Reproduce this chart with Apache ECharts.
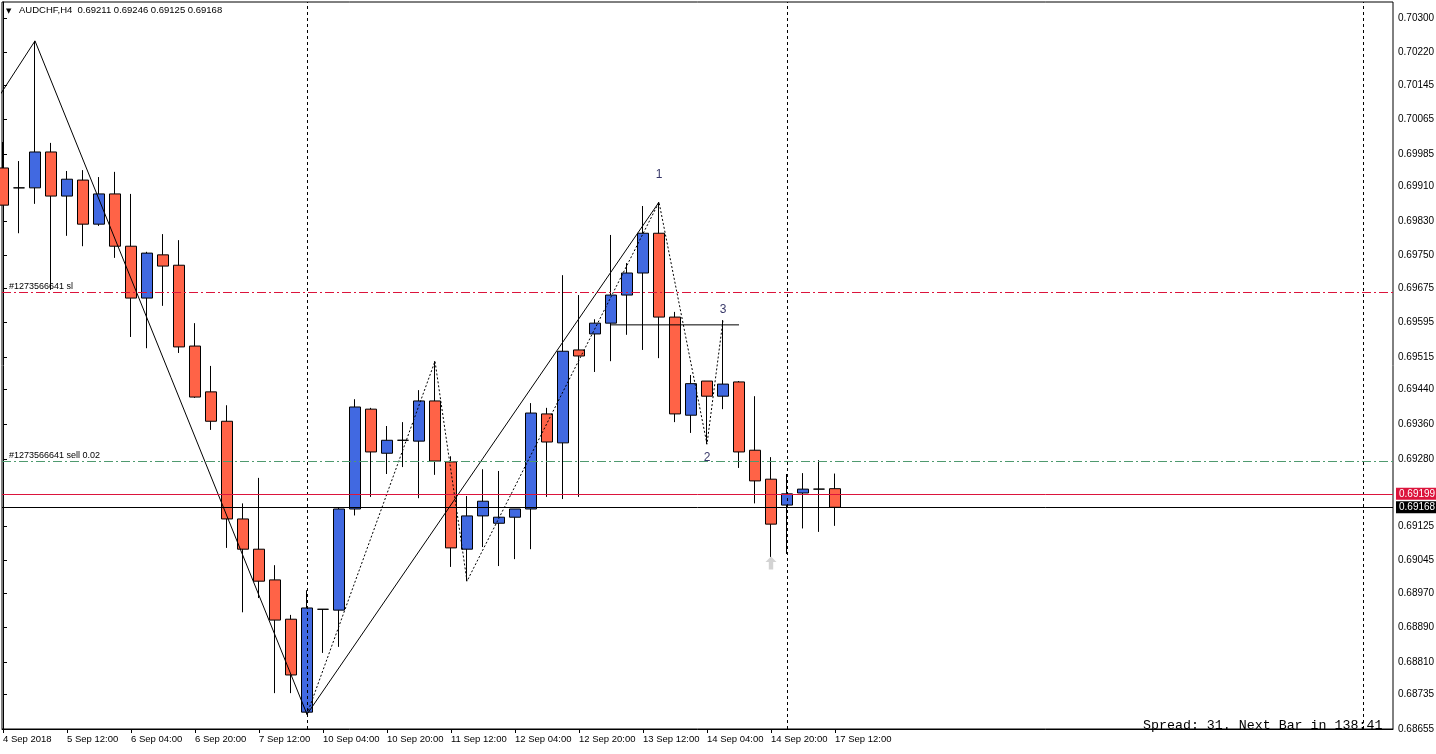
<!DOCTYPE html>
<html>
<head>
<meta charset="utf-8">
<script src="https://cdn.jsdelivr.net/npm/echarts@6/dist/echarts.min.js"></script>
<style>
  html, body { margin: 0; padding: 0; background: #fff; }
  #chart { width: 1436px; height: 754px; }
</style>
</head>
<body>
<div id="chart"></div>
<script>
// AUDCHF H4 snapshot
const symbolName = 'AUDCHF,H4';
const lastQuote = ['0.69211', '0.69246', '0.69125', '0.69168'];

// one row per bar: [open, close, low, high]
const bars = [
  [0.69953, 0.69867, 0.69867, 0.70013],
  [0.69907, 0.69907, 0.69802, 0.69969],
  [0.69907, 0.69990, 0.69870, 0.70247],
  [0.69990, 0.69888, 0.69671, 0.70011],
  [0.69888, 0.69927, 0.69796, 0.69946],
  [0.69925, 0.69823, 0.69772, 0.69948],
  [0.69823, 0.69893, 0.69819, 0.69932],
  [0.69893, 0.69772, 0.69745, 0.69944],
  [0.69772, 0.69652, 0.69562, 0.69893],
  [0.69652, 0.69756, 0.69536, 0.69759],
  [0.69752, 0.69726, 0.69634, 0.69800],
  [0.69728, 0.69539, 0.69525, 0.69786],
  [0.69541, 0.69423, 0.69421, 0.69594],
  [0.69435, 0.69367, 0.69347, 0.69495],
  [0.69367, 0.69141, 0.69074, 0.69404],
  [0.69141, 0.69071, 0.68925, 0.69177],
  [0.69071, 0.68997, 0.68958, 0.69236],
  [0.69000, 0.68907, 0.68738, 0.69034],
  [0.68909, 0.68780, 0.68738, 0.68919],
  [0.68694, 0.68935, 0.68689, 0.68976],
  [0.68932, 0.68932, 0.68831, 0.68932],
  [0.68930, 0.69164, 0.68845, 0.69168],
  [0.69164, 0.69400, 0.69149, 0.69418],
  [0.69395, 0.69296, 0.69192, 0.69398],
  [0.69293, 0.69323, 0.69245, 0.69356],
  [0.69323, 0.69323, 0.69261, 0.69365],
  [0.69321, 0.69414, 0.69189, 0.69439],
  [0.69414, 0.69275, 0.69243, 0.69506],
  [0.69273, 0.69074, 0.69030, 0.69286],
  [0.69071, 0.69148, 0.68997, 0.69194],
  [0.69148, 0.69182, 0.69076, 0.69256],
  [0.69131, 0.69145, 0.69032, 0.69252],
  [0.69145, 0.69164, 0.69048, 0.69164],
  [0.69164, 0.69386, 0.69071, 0.69409],
  [0.69384, 0.69319, 0.69192, 0.69398],
  [0.69317, 0.69529, 0.69187, 0.69705],
  [0.69532, 0.69518, 0.69192, 0.69659],
  [0.69569, 0.69594, 0.69481, 0.69603],
  [0.69594, 0.69659, 0.69506, 0.69798],
  [0.69659, 0.69710, 0.69567, 0.69733],
  [0.69710, 0.69802, 0.69532, 0.69865],
  [0.69802, 0.69608, 0.69513, 0.69874],
  [0.69608, 0.69384, 0.69365, 0.69620],
  [0.69381, 0.69454, 0.69340, 0.69474],
  [0.69460, 0.69425, 0.69314, 0.69460],
  [0.69425, 0.69453, 0.69395, 0.69601],
  [0.69458, 0.69296, 0.69259, 0.69460],
  [0.69300, 0.69229, 0.69177, 0.69425],
  [0.69233, 0.69129, 0.69053, 0.69284],
  [0.69173, 0.69199, 0.69060, 0.69245],
  [0.69201, 0.69210, 0.69119, 0.69247],
  [0.69210, 0.69210, 0.69111, 0.69277],
  [0.69211, 0.69168, 0.69125, 0.69246]
];

const xTickBars = [0, 4, 8, 12, 16, 20, 24, 28, 32, 36, 40, 44, 48, 52];
const xTickLabels = ['4 Sep 2018', '5 Sep 12:00', '6 Sep 04:00', '6 Sep 20:00', '7 Sep 12:00',
  '10 Sep 04:00', '10 Sep 20:00', '11 Sep 12:00', '12 Sep 04:00', '12 Sep 20:00',
  '13 Sep 12:00', '14 Sep 04:00', '14 Sep 20:00', '17 Sep 12:00'];
const yTickValues = [0.70300, 0.70220, 0.70145, 0.70065, 0.69985, 0.69910, 0.69830, 0.69750,
  0.69675, 0.69595, 0.69515, 0.69440, 0.69360, 0.69280, 0.69125, 0.69045, 0.68970,
  0.68890, 0.68810, 0.68735, 0.68655];

// zigzag points: [bar, price]
const zigzagMajor = [[-0.19, 0.70122], [2, 0.70247], [19, 0.68689], [41, 0.69874]];
const zigzagMinor = [[19, 0.68689], [27, 0.69506], [29, 0.68997], [41, 0.69874], [44, 0.69314], [45, 0.69601]];
const levelLine = [[38, 0.69590], [46, 0.69590]];
const waveLabels = [['1', 41, 0.69937], ['2', 44, 0.69282], ['3', 45, 0.69624]];
const arrowPoint = [48, 0.69039];
const separators = [19, 49, 85];

const orderId = '#1273566641';
const slPrice = 0.69666;
const openPrice = 0.69275;
const askPrice = 0.69199;
const bidPrice = 0.69168;

const chart = echarts.init(document.getElementById('chart'));
const FONT = 'Liberation Sans';

chart.setOption({
  animation: false,
  backgroundColor: '#fff',
  grid: { left: 2, top: 2, right: 43, bottom: 25, show: true, borderColor: '#000', borderWidth: 1, outerBoundsMode: 'none' },
  xAxis: {
    type: 'value', min: -0.0625, max: 86.875,
    axisLine: { show: true, lineStyle: { color: '#000', width: 1 } },
    axisTick: { show: true, customValues: xTickBars, length: 4, lineStyle: { color: '#000' } },
    axisLabel: {
      customValues: xTickBars, align: 'left', margin: 5, color: '#000', fontSize: 9.5, fontFamily: FONT,
      formatter: v => xTickLabels[xTickBars.indexOf(v)] || ''
    },
    splitLine: { show: false }
  },
  yAxis: {
    type: 'value', position: 'right', min: 0.68655, max: 0.70337, scale: true,
    axisLine: { show: true, lineStyle: { color: '#000', width: 1 } },
    axisTick: { show: true, customValues: yTickValues, length: 4, lineStyle: { color: '#000' } },
    axisLabel: {
      customValues: yTickValues, margin: 5, color: '#000', fontSize: 10, fontFamily: FONT,
      formatter: v => v.toFixed(5)
    },
    splitLine: { show: false }
  },
  graphic: [
    { type: 'text', left: 6, top: 8, style: { text: '▼', fontSize: 7, fill: '#000', fontFamily: 'DejaVu Sans' } },
    { type: 'text', left: 19, top: 5, style: { text: symbolName + '  ' + lastQuote.join(' '), fontSize: 9.5, fill: '#000', fontFamily: FONT } },
    { type: 'text', left: 1143, top: 719, style: { text: 'Spread: 31. Next Bar in 138:41', fontSize: 13.3, fill: '#000', fontFamily: 'Liberation Mono' } }
  ],
  series: [
    {
      type: 'candlestick',
      data: bars.map((b, i) => [i, b[0], b[1], b[2], b[3]]),
      encode: { x: 0, y: [1, 2, 3, 4] },
      barWidth: 11,
      silent: true,
      itemStyle: {
        color: '#4169E1', color0: '#FF6347',
        borderColor: '#000', borderColor0: '#000', borderColorDoji: '#000', borderWidth: 1
      },
      z: 2
    },
    {
      type: 'line', data: [], silent: true, z: 3,
      markLine: {
        silent: true, symbol: ['none', 'none'], animation: false, precision: 5,
        label: { show: false },
        data: [
          ...separators.map(s => ({ xAxis: s, lineStyle: { color: '#000', width: 1, type: [3, 3] } })),
          {
            yAxis: slPrice, lineStyle: { color: '#DC143C', width: 1, type: [9, 3, 2, 3] },
            label: { show: true, position: 'insideStartTop', distance: [7, 1], formatter: orderId + ' sl', color: '#000', fontSize: 9, fontFamily: FONT }
          },
          {
            yAxis: openPrice, lineStyle: { color: '#4f9a6f', width: 1, type: [9, 3, 2, 3] },
            label: { show: true, position: 'insideStartTop', distance: [7, 1], formatter: orderId + ' sell 0.02', color: '#000', fontSize: 9, fontFamily: FONT }
          },
          {
            yAxis: askPrice, lineStyle: { color: '#DC143C', width: 1, type: 'solid' },
            label: { show: true, position: 'end', distance: 3, formatter: askPrice.toFixed(5), color: '#fff', backgroundColor: '#DC143C', padding: [1, 3, 1, 3], fontSize: 10, fontFamily: FONT }
          },
          {
            yAxis: bidPrice, lineStyle: { color: '#000', width: 1, type: 'solid' },
            label: { show: true, position: 'end', distance: 3, formatter: bidPrice.toFixed(5), color: '#fff', backgroundColor: '#000', padding: [1, 3, 1, 3], fontSize: 10, fontFamily: FONT }
          }
        ]
      }
    },
    {
      type: 'line', data: zigzagMajor, showSymbol: false, silent: true, z: 4,
      lineStyle: { color: '#000', width: 1 }
    },
    {
      type: 'line', data: zigzagMinor, showSymbol: false, silent: true, z: 4,
      lineStyle: { color: '#000', width: 1, type: [2, 2] }
    },
    {
      type: 'line', data: levelLine, showSymbol: false, silent: true, z: 4,
      lineStyle: { color: '#000', width: 1 }
    },
    {
      type: 'scatter', data: [arrowPoint], silent: true, z: 4,
      symbol: 'path://M5,0 L10,5 L7,5 L7,12 L3,12 L3,5 L0,5 Z', symbolSize: [11, 13],
      itemStyle: { color: '#c8c8c8' }
    },
    {
      type: 'scatter', silent: true, z: 5, symbolSize: 0,
      data: waveLabels.map(w => ({ value: [w[1], w[2]], name: w[0] })),
      label: { show: true, position: 'inside', formatter: p => p.name, color: '#000040', fontSize: 12, fontFamily: FONT }
    }
  ]
});
</script>
</body>
</html>
